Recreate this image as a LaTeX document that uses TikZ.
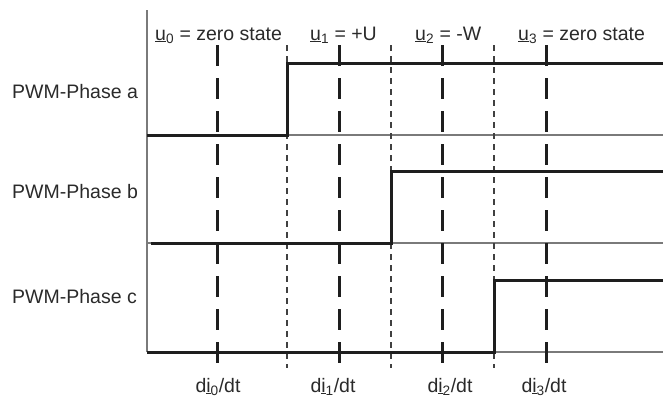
\documentclass[tikz,border=0pt]{standalone}
\usepackage{fontspec}
\setmainfont{Liberation Sans}
\definecolor{txt}{HTML}{2A2A2A}
\definecolor{sigc}{HTML}{1E1E1E}
\definecolor{basec}{HTML}{7A7A7A}
\begin{document}
\begin{tikzpicture}[x=1pt,y=-1pt,
  lbl/.style={inner sep=0pt, text=txt, font=\fontsize{19.5}{22}\selectfont},
  sig/.style={line width=3pt, draw=sigc, line join=miter},
  baseline/.style={line width=1.4pt, draw=basec},
  slotline/.style={line width=3pt, draw=sigc, dash pattern=on 21pt off 12pt},
  edgeline/.style={line width=1.2pt, draw=sigc!85, dash pattern=on 6pt off 5pt}]
\useasboundingbox (0,0) rectangle (663,400);

% time axis and phase baselines
\coordinate (top)  at (147,10);
\coordinate (orig) at (147,352);
\coordinate (aL) at (147,135); \coordinate (aR) at (663,135);
\coordinate (bL) at (147,243); \coordinate (bR) at (663,243);
\coordinate (cR) at (663,352);
\draw[baseline] (top) -- (orig);
\draw[baseline] (aL) -- (aR);
\draw[baseline] (bL) -- (bR);
\draw[baseline] (orig) -- (cR);

% switching instants (thin dashed)
\foreach \x/\n in {287/1,391/2,494/3}{
  \coordinate (e\n t) at (\x,45);
  \coordinate (e\n b) at (\x,368);
  \draw[edgeline] (e\n t) -- (e\n b);
}

% middle of each voltage interval (thick dashed)
\foreach \x/\n in {217/0,339/1,442/2,546/3}{
  \coordinate (m\n t) at (\x,45);
  \coordinate (m\n b) at (\x,363);
  \draw[slotline] (m\n t) -- (m\n b);
}

% PWM signals
\draw[sig] (147,135) -- (287,135) -- (287,63) -- (663,63);
\draw[sig] (151,243) -- (391,243) -- (391,171) -- (663,171);
\draw[sig] (147,352) -- (494,352) -- (494,280) -- (663,280);

% phase labels
\node[lbl, anchor=base west] (pa) at (12,98)  {PWM-Phase a};
\node[lbl, anchor=base west] (pb) at (12,198) {PWM-Phase b};
\node[lbl, anchor=base west] (pc) at (12,303) {PWM-Phase c};

% voltage vectors
\node[lbl, anchor=base west] (u0) at (155,40) {\underline{u}\textsubscript{0} = zero state};
\node[lbl, anchor=base west] (u1) at (310,40) {\underline{u}\textsubscript{1} = +U};
\node[lbl, anchor=base west] (u2) at (415,40) {\underline{u}\textsubscript{2} = -W};
\node[lbl, anchor=base west] (u3) at (518,40) {\underline{u}\textsubscript{3} = zero state};

% current derivatives
\node[lbl, anchor=base] (d0) at (218,392) {d\underline{i}\textsubscript{0}/dt};
\node[lbl, anchor=base] (d1) at (333,392) {d\underline{i}\textsubscript{1}/dt};
\node[lbl, anchor=base] (d2) at (450,392) {d\underline{i}\textsubscript{2}/dt};
\node[lbl, anchor=base] (d3) at (544,392) {d\underline{i}\textsubscript{3}/dt};
\end{tikzpicture}
\end{document}
